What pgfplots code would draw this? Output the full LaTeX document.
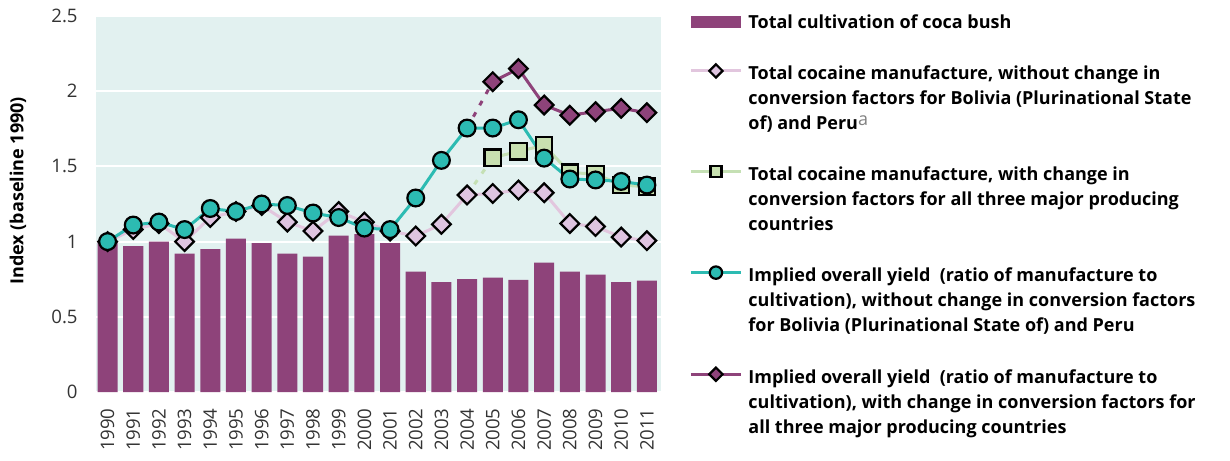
\documentclass[border=0pt]{standalone}
\usepackage{pgfplots}
\pgfplotsset{compat=1.18}
\usepackage{fontspec}
\setmainfont{Open Sans}
\definecolor{bgcol}{HTML}{E2F1F0}
\definecolor{barcol}{HTML}{8E437A}
\definecolor{tealc}{HTML}{2CBBB2}
\definecolor{pinkfill}{HTML}{DEC4E0}
\definecolor{pinkline}{HTML}{E2C6DE}
\definecolor{greenfill}{HTML}{C8E0B0}
\definecolor{greenline}{HTML}{C5E0B4}
\definecolor{tickgray}{HTML}{333333}
\pgfplotsset{
  lineleg/.style={legend image code/.code={
    \draw[mark repeat=2,mark phase=2,##1] plot coordinates {(0pt,14.3pt) (12.5pt,14.3pt) (25pt,14.3pt)};}},
}
\begin{document}
\begin{tikzpicture}
\useasboundingbox (0,0) rectangle (615pt,230pt);
\begin{axis}[
  at={(48pt,34pt)}, anchor=south west,
  scale only axis, width=282.5pt, height=188pt,
  xmin=-0.45, xmax=21.55, ymin=0, ymax=2.5,
  xtick={0,...,21},
  xticklabels={1990,1991,1992,1993,1994,1995,1996,1997,1998,1999,2000,2001,2002,2003,2004,2005,2006,2007,2008,2009,2010,2011},
  ytick={0,0.5,1,1.5,2,2.5},
  /pgf/number format/assume math mode=true,
  axis background/.style={fill=bgcol},
  axis line style={draw=none},
  major tick length=0pt,
  ymajorgrids, grid style={white, line width=1pt},
  tick label style={font=\fontsize{9.3}{11}\selectfont, text=tickgray},
  xticklabel style={rotate=90, anchor=east, inner sep=0pt},
  yticklabel style={anchor=east, inner sep=0pt},
  xticklabel shift=8pt, yticklabel shift=9pt,
  ylabel={Index (baseline 1990)},
  every axis y label/.style={at={(rel axis cs:-0.138,0.535)}, rotate=90, anchor=center,
    font=\bfseries\fontsize{9}{11}\selectfont},
  legend style={at={(rel axis cs:1.0496,1.005)}, anchor=north west, draw=none, fill=none,
    inner sep=0pt, nodes={inner sep=0pt}, column sep=3pt, row sep=16.5pt,
    font=\bfseries\fontsize{9}{12.5}\selectfont, cells={align=left}},
  legend cell align=left,
]
% cultivation
\addplot[ybar, bar width=0.78, fill=barcol, draw=none,
  legend image code/.code={\fill[barcol] (0pt,-2.35pt) rectangle (25pt,3.65pt);}]
  coordinates {(0,1.00) (1,0.97) (2,1.00) (3,0.92) (4,0.95) (5,1.02) (6,0.99) (7,0.92)
    (8,0.90) (9,1.04) (10,1.05) (11,0.99) (12,0.80) (13,0.73) (14,0.75) (15,0.76)
    (16,0.745) (17,0.86) (18,0.80) (19,0.78) (20,0.73) (21,0.74)};
\addlegendentry{Total cultivation of coca bush}
% dotted connectors
\addplot[forget plot, greenline, line width=1.5pt, dash pattern=on 2.5pt off 4pt]
  coordinates {(14,1.31) (15,1.558)};
\addplot[forget plot, barcol, line width=1.5pt, dash pattern=on 2.5pt off 4pt]
  coordinates {(14,1.755) (15,2.063)};
% manufacture without change
\addplot[pinkline, line width=1.5pt, mark=square*, mark size=3.3pt,
  mark options={rotate=45, fill=pinkfill, draw=black, line width=1.1pt, solid},
  lineleg, legend image post style={mark size=2.35pt}]
  coordinates {(0,1.00) (1,1.08) (2,1.12) (3,1.00) (4,1.16) (5,1.20) (6,1.24) (7,1.13)
    (8,1.07) (9,1.20) (10,1.13) (11,1.07) (12,1.037) (13,1.115) (14,1.31) (15,1.32)
    (16,1.343) (17,1.325) (18,1.12) (19,1.10) (20,1.03) (21,1.006)};
\addlegendentry{Total cocaine manufacture, without change in\\conversion factors for Bolivia (Plurinational State\\of) and Peru\raisebox{2pt}{\mdseries\color{gray}a}}
% manufacture with change
\addplot[greenline, line width=1.5pt, mark=square*, mark size=4.1pt,
  mark options={fill=greenfill, draw=black, line width=1.1pt, solid},
  lineleg, legend image post style={mark size=2.75pt}]
  coordinates {(15,1.558) (16,1.60) (17,1.64) (18,1.458) (19,1.45) (20,1.376) (21,1.365)};
\addlegendentry{Total cocaine manufacture, with change in\\conversion factors for all three major producing\\countries}
% yield without change
\addplot[tealc, line width=1.5pt, mark=*, mark size=4.2pt,
  mark options={fill=tealc, draw=black, line width=1.1pt, solid},
  lineleg, legend image post style={mark size=3.1pt}]
  coordinates {(0,1.00) (1,1.11) (2,1.13) (3,1.08) (4,1.22) (5,1.20) (6,1.25) (7,1.24)
    (8,1.19) (9,1.16) (10,1.09) (11,1.08) (12,1.29) (13,1.54) (14,1.755) (15,1.755)
    (16,1.81) (17,1.555) (18,1.416) (19,1.41) (20,1.40) (21,1.376)};
\addlegendentry{Implied overall yield\ \ (ratio of manufacture to\\cultivation), without change in conversion factors\\for Bolivia (Plurinational State of) and Peru}
% yield with change
\addplot[barcol, line width=1.5pt, mark=square*, mark size=3.3pt,
  mark options={rotate=45, fill=barcol, draw=black, line width=1.1pt, solid},
  lineleg, legend image post style={mark size=2.35pt}]
  coordinates {(15,2.063) (16,2.15) (17,1.908) (18,1.84) (19,1.864) (20,1.886) (21,1.857)};
\addlegendentry{Implied overall yield\ \ (ratio of manufacture to\\cultivation), with change in conversion factors for\\all three major producing countries}
\end{axis}
\end{tikzpicture}
\end{document}
